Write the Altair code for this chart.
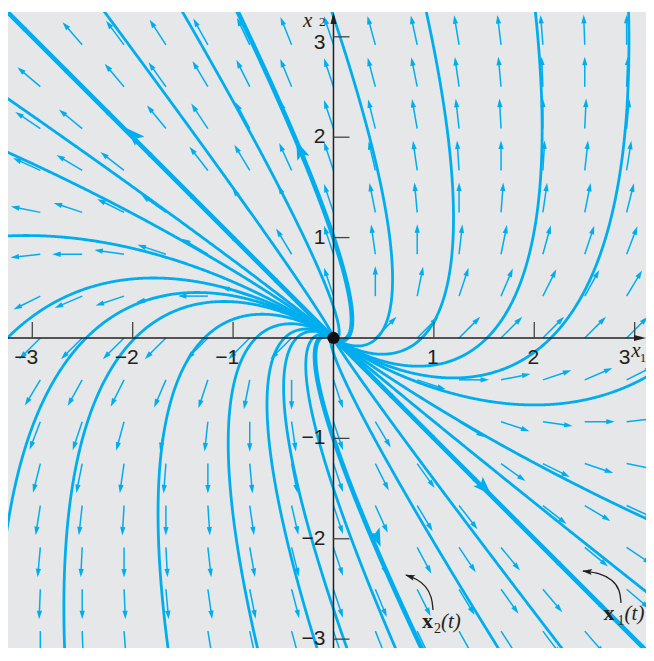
import numpy as np
import pandas as pd
import altair as alt

BLUE = "#00AEEF"
BG = "#E6E7E8"
INK = "#231F20"

# ---- system  x' = A x  (double eigenvalue r = 2, improper node) ----
A = [[1.0, -1.0], [1.0, 3.0]]
r_eig = 2.0
xi = [1.0, -1.0]      # eigenvector  -> x1(t) = xi e^{2t}
eta = [0.0, -1.0]     # generalized eigenvector -> x2(t) = (xi t + eta) e^{2t}

c_thin = [-23800.0, -150.0, -26.8, -16.0, -11.3, -6.5, -3.2, -0.311, -0.0087,
          0.0031, 0.15, 1.5, 2.7, 3.6, 5.7, 9.5, 14.6, 18.2, 24.0, 41.0, 146.0, 1624.0]
c_thick = [1.0, -1.0]
line_ends = [-3.6, 3.6]           # straight-line solutions +-x1(t) along y = -x

# direction field grid (arrow tails)
grid = [-2.92, -2.503, -2.086, -1.669, -1.251, -0.834, -0.417, 0.0,
        0.417, 0.834, 1.251, 1.669, 2.086, 2.503, 2.92]

ticks = [-3, -2, -1, 1, 2, 3]
tick_text = ["\u22123", "\u22122", "\u22121", "1", "2", "3"]

# big arrowheads on the highlighted solutions: tip position and direction
big_tip_x = [-2.06, 1.57, -0.37, 0.47]
big_tip_y = [2.09, -1.56, 1.96, -2.08]
big_dir_x = [-1.0, 1.0, -1.4, 1.5]
big_dir_y = [1.0, -1.0, 3.4, -3.6]

# curved pointer arrows for the labels
ptr2_x = [0.991, 0.981, 0.921, 0.832, 0.722]
ptr2_y = [-2.709, -2.580, -2.470, -2.400, -2.361]
ptr1_x = [2.864, 2.854, 2.784, 2.655, 2.486]
ptr1_y = [-2.639, -2.510, -2.410, -2.341, -2.321]

# ---- layout ----
W, H = 638, 636
x_dom = [-3.242, 3.113]
y_dom = [-3.088, 3.247]
PX = (x_dom[1] - x_dom[0]) / W        # data units per pixel

X = lambda f="x": alt.X(f"{f}:Q", scale=alt.Scale(domain=x_dom, nice=False, zero=False), axis=None)
Y = lambda f="y": alt.Y(f"{f}:Q", scale=alt.Scale(domain=y_dom, nice=False, zero=False), axis=None)


def angle_of(dx, dy):
    return float((np.degrees(np.arctan2(dx, dy)) + 360.0) % 360.0)


# ---- trajectories ----
tau = np.linspace(-30, 4, 68001)


def trajectory(c):
    e = np.exp(r_eig * tau)
    x = c * e * (xi[0] * tau + eta[0])
    y = c * e * (xi[1] * tau + eta[1])
    rr = np.hypot(x, y)
    m = (rr > 0.003) & (rr < 6.0)
    x, y = x[m], y[m]
    s = np.concatenate([[0.0], np.cumsum(np.hypot(np.diff(x), np.diff(y)))])
    keep = np.unique(np.append(np.searchsorted(s, np.arange(0, s[-1], 0.008)), len(x) - 1))
    return x[keep], y[keep]


thin_rows, thick_rows = [], []
for i, c in enumerate(c_thin):
    xs, ys = trajectory(c)
    thin_rows += [{"id": i, "k": j, "x": a, "y": b} for j, (a, b) in enumerate(zip(xs, ys))]
for i, c in enumerate(c_thick):
    xs, ys = trajectory(c)
    thick_rows += [{"id": i, "k": j, "x": a, "y": b} for j, (a, b) in enumerate(zip(xs, ys))]
for i, e in enumerate(line_ends):
    thick_rows += [{"id": 10 + i, "k": 0, "x": 0.0, "y": 0.0},
                   {"id": 10 + i, "k": 1, "x": e * xi[0], "y": e * xi[1]}]
thin_df = pd.DataFrame(thin_rows)
thick_df = pd.DataFrame(thick_rows)

# ---- direction field ----
ARROW_LEN = 30.0   # px
HEAD = 8.5         # px
Am = np.array(A)
shaft, heads = [], []
for gx in grid:
    for gy in grid:
        if abs(gx) < 1e-9 and abs(gy) < 1e-9:
            continue
        d = Am @ np.array([gx, gy])
        u = d / np.hypot(*d)
        tip = np.array([gx, gy]) + ARROW_LEN * PX * u
        hc = tip - 0.5 * HEAD * PX * u
        se = tip - 0.6 * HEAD * PX * u
        shaft.append({"x": gx, "y": gy, "x2": se[0], "y2": se[1]})
        heads.append({"x": hc[0], "y": hc[1], "a": angle_of(u[0], u[1])})
shaft_df = pd.DataFrame(shaft)
heads_df = pd.DataFrame(heads)

# big arrowheads
BIG = 20.0
big = []
for tx, ty, dx, dy in zip(big_tip_x, big_tip_y, big_dir_x, big_dir_y):
    u = np.array([dx, dy]) / np.hypot(dx, dy)
    c = np.array([tx, ty]) - 0.5 * BIG * PX * u
    big.append({"x": c[0], "y": c[1], "a": angle_of(u[0], u[1])})
big_df = pd.DataFrame(big)

# ---- layers ----
shaft_layer = alt.Chart(shaft_df).mark_rule(color=BLUE, strokeWidth=1.5, clip=True).encode(
    x=X(), y=Y(), x2="x2:Q", y2="y2:Q")
head_layer = alt.Chart(heads_df).mark_point(
    shape="M0,-1L0.62,1L-0.62,1Z", filled=True, size=HEAD ** 2, color=BLUE, opacity=1,
    strokeWidth=0, clip=True).encode(x=X(), y=Y(), angle=alt.Angle("a:Q", scale=None))

thin_layer = alt.Chart(thin_df).mark_line(color=BLUE, strokeWidth=2.8, clip=True).encode(
    x=X(), y=Y(), detail="id:N", order="k:Q")
thick_layer = alt.Chart(thick_df).mark_line(color=BLUE, strokeWidth=4.6, clip=True).encode(
    x=X(), y=Y(), detail="id:N", order="k:Q")
big_layer = alt.Chart(big_df).mark_point(
    shape="M0,-1L0.66,0.85L0,0.45L-0.66,0.85Z", filled=True, size=BIG ** 2, color=BLUE,
    opacity=1, strokeWidth=0, clip=True).encode(x=X(), y=Y(), angle=alt.Angle("a:Q", scale=None))

# axes
axes_df = pd.DataFrame({"x": [x_dom[0], 0.0], "y": [0.0, y_dom[0]],
                        "x2": [x_dom[1] - 4 * PX, 0.0], "y2": [0.0, y_dom[1] - 4 * PX]})
axes_layer = alt.Chart(axes_df).mark_rule(color=INK, strokeWidth=1.5, clip=True).encode(
    x=X(), y=Y(), x2="x2:Q", y2="y2:Q")
ax_heads = pd.DataFrame({"x": [x_dom[1] - 6 * PX, 0.0], "y": [0.0, y_dom[1] - 6 * PX], "a": [90.0, 0.0]})
ax_head_layer = alt.Chart(ax_heads).mark_point(
    shape="M0,-1L0.5,1L-0.5,1Z", filled=True, size=144, color=INK, opacity=1, strokeWidth=0,
    clip=True).encode(x=X(), y=Y(), angle=alt.Angle("a:Q", scale=None))

TL = 16 * PX
xt_df = pd.DataFrame({"x": ticks, "y": [0.0] * 6, "x2": ticks, "y2": [TL] * 6})
yt_df = pd.DataFrame({"x": [0.0] * 6, "y": ticks, "x2": [TL] * 6, "y2": ticks})
xt_layer = alt.Chart(xt_df).mark_rule(color="#444444", strokeWidth=1.3).encode(
    x=X(), y=Y(), x2="x2:Q", y2="y2:Q")
yt_layer = alt.Chart(yt_df).mark_rule(color="#444444", strokeWidth=1.3).encode(
    x=X(), y=Y(), x2="x2:Q", y2="y2:Q")

lab = pd.DataFrame({"t": ticks, "s": tick_text, "z": [0.0] * 6})
FONT = "Liberation Sans"
xl_neg = alt.Chart(lab[lab.t < 0]).mark_text(
    font=FONT, fontSize=21, color=INK, align="right", baseline="alphabetic", dx=6, dy=26).encode(
    x=X("t"), y=Y("z"), text="s:N")
xl_pos = alt.Chart(lab[(lab.t > 0) & (lab.t < 3)]).mark_text(
    font=FONT, fontSize=21, color=INK, align="center", baseline="alphabetic", dx=-1, dy=26).encode(
    x=X("t"), y=Y("z"), text="s:N")
xl_3 = alt.Chart(lab[lab.t == 3]).mark_text(
    font=FONT, fontSize=21, color=INK, align="center", baseline="alphabetic", dx=-10, dy=26).encode(
    x=X("t"), y=Y("z"), text="s:N")
yl = alt.Chart(lab[lab.t < 3]).mark_text(
    font=FONT, fontSize=21, color=INK, align="right", baseline="middle", dx=-8, dy=0).encode(
    x=X("z"), y=Y("t"), text="s:N")
yl_3 = alt.Chart(lab[lab.t == 3]).mark_text(
    font=FONT, fontSize=21, color=INK, align="right", baseline="middle", dx=-8, dy=6).encode(
    x=X("z"), y=Y("t"), text="s:N")

# origin
dot = alt.Chart(pd.DataFrame({"x": [0.0], "y": [0.0]})).mark_point(
    shape="circle", filled=True, size=150, color="#111111", opacity=1, strokeWidth=0).encode(x=X(), y=Y())

# text annotations
SERIF = "Liberation Serif"


def txt(df, **kw):
    return alt.Chart(df).mark_text(align="left", baseline="alphabetic", color=INK, **kw).encode(
        x=X(), y=Y(), text="s:N")


bold_x = txt(pd.DataFrame({"x": [0.881, 2.69], "y": [-2.888, -2.809], "s": ["x", "x"]}),
             font=SERIF, fontSize=22, fontWeight="bold")
subs = txt(pd.DataFrame({"x": [1.001, 2.83], "y": [-2.938, -2.859], "s": ["2", "1"]}),
           font=SERIF, fontSize=14)
paren_t = txt(pd.DataFrame({"x": [1.071, 2.90], "y": [-2.888, -2.809], "s": ["(t)", "(t)"]}),
              font=SERIF, fontSize=21, fontStyle="italic")
axis_x = txt(pd.DataFrame({"x": [-0.304, 2.965], "y": [3.093, -0.189], "s": ["x", "x"]}),
             font=SERIF, fontSize=21, fontStyle="italic")
axis_sub = txt(pd.DataFrame({"x": [-0.144, 3.05], "y": [3.108, -0.239], "s": ["2", "1"]}),
               font=SERIF, fontSize=13)

ptr_df = pd.DataFrame({"id": [0] * 5 + [1] * 5, "k": list(range(5)) * 2,
                       "x": ptr2_x + ptr1_x, "y": ptr2_y + ptr1_y})
ptr_layer = alt.Chart(ptr_df).mark_line(color=INK, strokeWidth=1.3, interpolate="basis").encode(
    x=X(), y=Y(), detail="id:N", order="k:Q")
ph = []
for px_, py_ in ((ptr2_x, ptr2_y), (ptr1_x, ptr1_y)):
    dx, dy = px_[-1] - px_[-2], py_[-1] - py_[-2]
    u = np.array([dx, dy]) / np.hypot(dx, dy)
    c = np.array([px_[-1], py_[-1]]) - 4 * PX * u
    ph.append({"x": c[0], "y": c[1], "a": angle_of(u[0], u[1])})
ptr_head = alt.Chart(pd.DataFrame(ph)).mark_point(
    shape="M0,-1L0.6,1L0,0.6L-0.6,1Z", filled=True, size=100, color=INK, opacity=1, strokeWidth=0).encode(
    x=X(), y=Y(), angle=alt.Angle("a:Q", scale=None))

chart = alt.layer(
    shaft_layer, head_layer, thin_layer, thick_layer, big_layer,
    axes_layer, xt_layer, yt_layer, ax_head_layer,
    xl_neg, xl_pos, xl_3, yl, yl_3, dot,
    ptr_layer, ptr_head, bold_x, subs, paren_t, axis_x, axis_sub,
).properties(
    width=W, height=H,
    padding={"left": 0, "top": 4, "right": 0, "bottom": 0},
    autosize=alt.AutoSizeParams(type="none"),
    background="white",
).configure_view(fill=BG, stroke=None)

chart.save("out.html", embed_options={"renderer": "svg", "actions": False})
